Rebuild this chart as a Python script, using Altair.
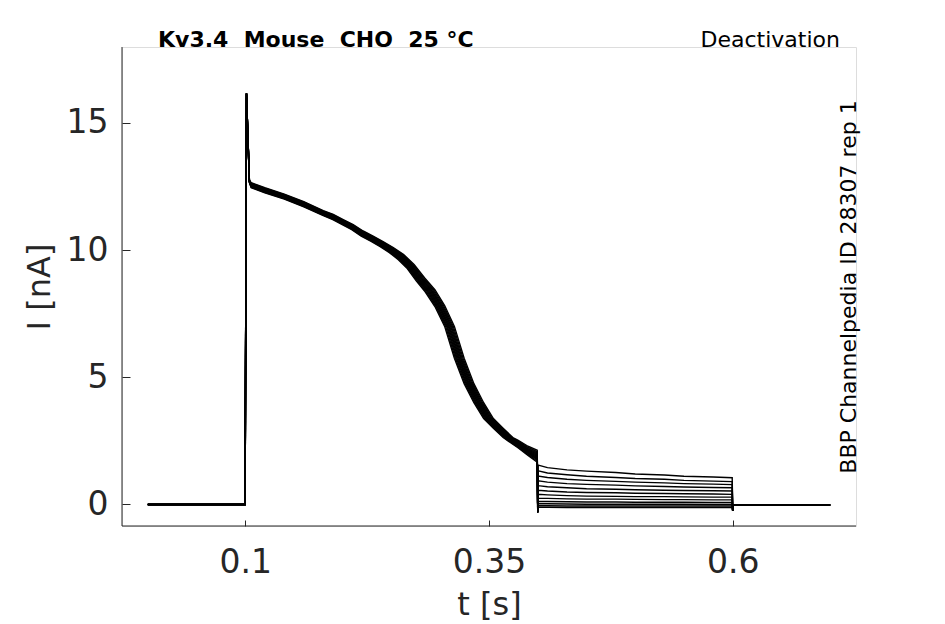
import altair as alt
import pandas as pd

# ---- data ----
base_t = [0.0, 0.05, 0.0998, 0.1012, 0.1042, 0.106, 0.12, 0.14, 0.16, 0.18, 0.19,
          0.20, 0.21, 0.22, 0.23, 0.24, 0.25, 0.26, 0.27, 0.28, 0.29, 0.30, 0.31,
          0.32, 0.33, 0.34, 0.35, 0.36, 0.37]
base_I = [0.0, 0.0, 0.0, 16.15, 12.7, 12.55, 12.35, 12.1, 11.8, 11.45, 11.3,
          11.1, 10.9, 10.65, 10.45, 10.23, 10.0, 9.72, 9.35, 8.85, 8.4, 7.8, 7.0,
          5.75, 4.75, 4.0, 3.38, 3.0, 2.63]
# how strongly each base point takes part in the trace-to-trace spread
shift_weight = [0, 0, 0, 0, 0, 0, 0, 0, 0, 0, 0.05,
                0.1, 0.15, 0.2, 0.25, 0.3, 0.4, 0.55, 0.7, 0.85, 1, 1, 1,
                1, 1, 1, 1, 1, 1]
amp_weight = [0, 0, 0, 0, 0.5, 1, 1, 1, 1, 1, 1,
              1, 1, 1, 1, 1, 1, 1, 0.8, 0.6, 0.4, 0.2, 0,
              0, 0, 0, 0, 0, 0]

trace_shift = [-0.0055, -0.0045, -0.0035, -0.0027, -0.0018, -0.0010,
               -0.0002, 0.0007, 0.0015, 0.0024, 0.0034, 0.0045]
trace_amp = [-0.10, -0.08, -0.065, -0.045, -0.03, -0.01,
             0.01, 0.025, 0.04, 0.06, 0.08, 0.10]

tail_t = [0.38, 0.39, 0.3995]
tail_I = [
    [2.22, 1.93, 1.66], [2.25, 1.97, 1.71], [2.28, 2.01, 1.76], [2.30, 2.04, 1.80],
    [2.33, 2.07, 1.84], [2.35, 2.10, 1.88], [2.38, 2.13, 1.92], [2.41, 2.16, 1.96],
    [2.43, 2.19, 2.00], [2.46, 2.22, 2.04], [2.49, 2.25, 2.08], [2.52, 2.29, 2.13],
]

step_t = [0.4]
step_I = [-0.3]

deact_t = [0.4005, 0.41, 0.43, 0.45, 0.48, 0.50, 0.53, 0.55, 0.58, 0.5995]
deact_I = [
    [1.55, 1.45, 1.36, 1.31, 1.26, 1.20, 1.16, 1.11, 1.08, 1.05],
    [1.32, 1.24, 1.17, 1.11, 1.06, 1.02, 0.99, 0.95, 0.92, 0.90],
    [1.12, 1.06, 0.99, 0.95, 0.91, 0.88, 0.85, 0.82, 0.80, 0.78],
    [0.93, 0.88, 0.82, 0.79, 0.76, 0.73, 0.71, 0.69, 0.67, 0.66],
    [0.74, 0.70, 0.66, 0.62, 0.60, 0.58, 0.56, 0.55, 0.54, 0.53],
    [0.56, 0.53, 0.49, 0.47, 0.46, 0.44, 0.43, 0.42, 0.41, 0.40],
    [0.40, 0.38, 0.35, 0.33, 0.32, 0.31, 0.31, 0.30, 0.29, 0.29],
    [0.25, 0.24, 0.22, 0.21, 0.21, 0.20, 0.19, 0.19, 0.18, 0.18],
    [0.13, 0.12, 0.11, 0.10, 0.10, 0.09, 0.09, 0.09, 0.08, 0.08],
    [0.03, 0.03, 0.02, 0.01, 0.01, 0.01, 0.01, 0.01, 0.00, 0.00],
    [-0.05, -0.05, -0.06, -0.06, -0.06, -0.06, -0.06, -0.06, -0.06, -0.06],
    [-0.11, -0.11, -0.12, -0.12, -0.12, -0.12, -0.12, -0.12, -0.12, -0.12],
]

off_t = [0.6, 0.6005, 0.7]
off_I = [-0.25, -0.02, -0.02]

x_ticks = [0.1, 0.35, 0.6]
y_ticks = [0, 5, 10, 15]

title_left = "Kv3.4 \u00a0Mouse \u00a0CHO \u00a025 °C"
title_right = "Deactivation"
side_text = "BBP Channelpedia ID 28307 rep 1"

# ---- build the table ----
rows = []
for k in range(len(trace_shift)):
    seq = 0
    for t, v, ws, wa in zip(base_t, base_I, shift_weight, amp_weight):
        rows.append({"trace": k, "seq": seq,
                     "t": t + trace_shift[k] * ws,
                     "I": v + trace_amp[k] * wa})
        seq += 1
    for t, v in zip(tail_t, tail_I[k]):
        rows.append({"trace": k, "seq": seq, "t": t, "I": v}); seq += 1
    for t, v in zip(step_t, step_I):
        rows.append({"trace": k, "seq": seq, "t": t, "I": v}); seq += 1
    for t, v in zip(deact_t, deact_I[k]):
        rows.append({"trace": k, "seq": seq, "t": t, "I": v}); seq += 1
    for t, v in zip(off_t, off_I):
        rows.append({"trace": k, "seq": seq, "t": t, "I": v}); seq += 1
df = pd.DataFrame(rows)

W, H = 734, 479
AX = "#262626"
FONT = "DejaVu Sans"

lines = alt.Chart(df).mark_line(color="black", strokeWidth=1.4).encode(
    x=alt.X("t:Q",
            scale=alt.Scale(domain=[-0.0265, 0.7265], nice=False, zero=False),
            axis=alt.Axis(values=x_ticks, labelExpr="format(datum.value, '.2~f')",
                          title="t [s]", grid=False,
                          domain=False, offset=-6, tickSize=6, tickColor=AX,
                          labelPadding=20, labelFontSize=33, labelColor=AX,
                          labelFont=FONT, titleFont=FONT, titleFontSize=32,
                          titleFontWeight="normal", titleColor=AX,
                          titleBaseline="alphabetic", titleY=94)),
    y=alt.Y("I:Q",
            scale=alt.Scale(domain=[-0.845, 17.98], nice=False, zero=False),
            axis=alt.Axis(values=y_ticks, title="I [nA]", grid=False,
                          domain=False, offset=-8, tickSize=8, tickColor=AX,
                          labelPadding=14, labelFontSize=33, labelColor=AX,
                          labelFont=FONT, titleFont=FONT, titleFontSize=32,
                          titleFontWeight="normal", titleColor=AX,
                          titleBaseline="alphabetic", titleX=-81)),
    detail="trace:N",
    order="seq:Q",
)

one = pd.DataFrame({"a": [0]})
xdom = alt.Chart(one).mark_rule(color=AX, strokeWidth=1).encode(
    x=alt.value(0), x2=alt.value(W), y=alt.value(H))
ydom = alt.Chart(one).mark_rule(color=AX, strokeWidth=1).encode(
    x=alt.value(0), y=alt.value(0), y2=alt.value(H))

t1 = alt.Chart(one).mark_text(text=title_left, align="left", baseline="alphabetic",
                              font=FONT, fontSize=22, fontWeight="bold",
                              color="black").encode(x=alt.value(36), y=alt.value(0))
t2 = alt.Chart(one).mark_text(text=title_right, align="right", baseline="alphabetic",
                              font=FONT, fontSize=22, color="black").encode(
    x=alt.value(718), y=alt.value(0))
t3 = alt.Chart(one).mark_text(text=side_text, align="center", baseline="alphabetic",
                              angle=270, font=FONT, fontSize=22, color="black").encode(
    x=alt.value(734), y=alt.value(240))

chart = alt.layer(lines, xdom, ydom, t1, t2, t3).properties(
    width=W, height=H,
    autosize=alt.AutoSizeParams(type="none"),
    padding={"left": 114, "top": 39, "right": 60, "bottom": 96},
).configure_view(stroke=None).configure(font=FONT)

chart.save("out.html", embed_options={"renderer": "svg", "actions": False})
